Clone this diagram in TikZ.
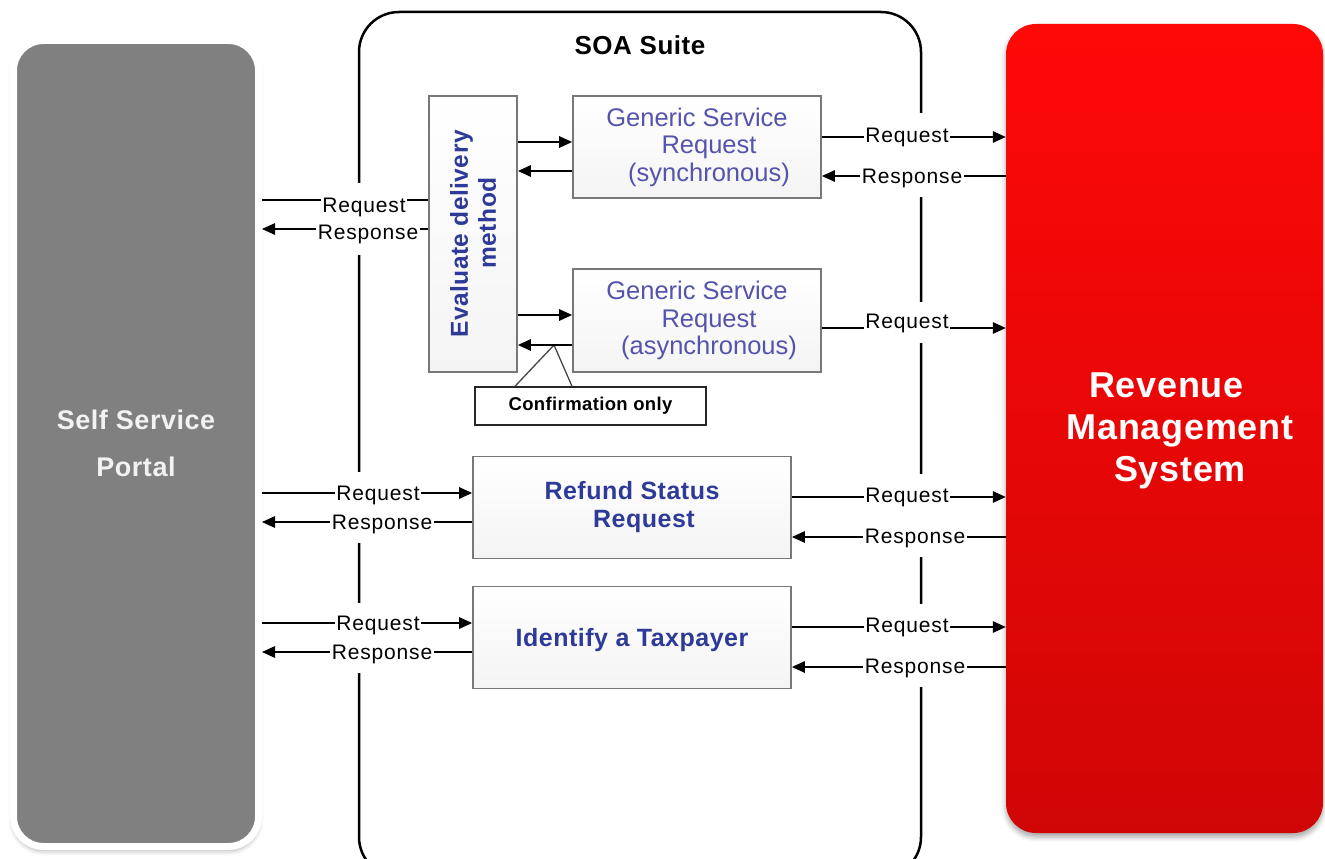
\documentclass[tikz,border=0pt]{standalone}
\usepackage{fontspec}
\setmainfont{Liberation Sans}
\newfontfamily\lblfont[LetterSpace=4]{Liberation Sans}
\newfontfamily\ttlfont[LetterSpace=2]{Liberation Sans}
\usetikzlibrary{arrows.meta,shadows.blur}

\definecolor{portalgray}{RGB}{128,128,128}
\definecolor{titlewhite}{RGB}{242,242,242}
\definecolor{rmstop}{RGB}{255,8,8}
\definecolor{rmsbot}{RGB}{208,6,6}
\definecolor{genblue}{RGB}{84,84,172}
\definecolor{boldblue}{RGB}{46,58,152}
\definecolor{boxgray}{RGB}{120,120,120}
\definecolor{boxshade}{RGB}{244,244,244}
\definecolor{calloutgray}{RGB}{70,70,70}

\begin{document}
\begin{tikzpicture}[x=1pt,y=-1pt,
  portal/.style={rectangle, rounded corners=30pt, fill=portalgray, draw=white,
    line width=7pt, minimum width=245pt, minimum height=806pt, inner sep=0pt,
    blur shadow={shadow xshift=0pt, shadow yshift=-4pt, shadow blur radius=5pt, shadow opacity=35},
    text=titlewhite, align=center,
    font=\ttlfont\bfseries\fontsize{27}{47}\selectfont},
  rmsbox/.style={rectangle, rounded corners=30pt, top color=rmstop, bottom color=rmsbot,
    draw=none, minimum width=317pt, minimum height=809pt, inner sep=0pt,
    blur shadow={shadow xshift=0pt, shadow yshift=-4pt, shadow blur radius=5pt, shadow opacity=35}},
  rmstitle/.style={text=white, align=center,
    font=\ttlfont\bfseries\fontsize{36}{42}\selectfont},
  soaframe/.style={rectangle, rounded corners=40pt, draw=black, line width=2.5pt,
    minimum width=562pt, minimum height=865pt, inner sep=0pt},
  soatitle/.style={anchor=base, font=\ttlfont\bfseries\fontsize{26}{30}\selectfont},
  svcbox/.style={rectangle, draw=boxgray, line width=1.8pt, top color=white,
    bottom color=boxshade, inner sep=0pt, align=center},
  gentext/.style={text=genblue, font=\fontsize{25.5}{27.5}\selectfont},
  boldtext/.style={text=boldblue, font=\ttlfont\bfseries\fontsize{25}{28}\selectfont},
  evaltext/.style={text=boldblue, align=center, inner sep=0pt,
    font=\ttlfont\bfseries\fontsize{24.5}{28}\selectfont},
  notebox/.style={rectangle, draw=black!85, line width=1.5pt, fill=white,
    minimum width=231pt, minimum height=38pt, inner sep=0pt,
    font=\ttlfont\bfseries\fontsize{18.5}{22}\selectfont},
  lbl/.style={anchor=base, fill=white, inner xsep=1.5pt, inner ysep=0pt,
    font=\lblfont\fontsize{21}{25}\selectfont},
  conn/.style={draw=black, line width=1.4pt},
  arr/.style={conn, -{Triangle[length=13pt,width=11.5pt]}},
  calloutline/.style={draw=calloutgray, line width=1.3pt}
]
\useasboundingbox (0,0) rectangle (1325,859);
\clip (0,0) rectangle (1325,859);

% outer systems
\node[portal] (ssp) at (136,443.5) {Self Service\\Portal};
\node[rmsbox] (rms) at (1164.5,428.5) {};
\node[rmstitle] (rmstxt) at (1180,431) {Revenue\hspace*{27pt}\\Management\\System};

% SOA container
\node[soaframe] (soa) at (640,444.5) {};
\node[soatitle] (soatxt) at (640,55) {SOA Suite};

% services inside the SOA suite
\node[svcbox, minimum width=88pt, minimum height=276pt] (eval) at (473,234) {};
\node[evaltext, rotate=90] (evaltxt) at (eval.center) {Evaluate delivery\\\hspace*{22pt}method};
\node[svcbox, gentext, minimum width=248pt, minimum height=102pt] (gsync) at (697,147)
  {Generic Service\\\hspace*{24pt}Request\\\hspace*{24pt}(synchronous)};
\node[svcbox, gentext, minimum width=248pt, minimum height=103pt] (gasync) at (697,320.5)
  {Generic Service\\\hspace*{24pt}Request\\\hspace*{24pt}(asynchronous)};
\node[svcbox, boldtext, minimum width=318pt, minimum height=102pt] (refund) at (632,507.5)
  {Refund Status\\\hspace*{24pt}Request};
\node[svcbox, boldtext, minimum width=318pt, minimum height=102pt, text depth=0pt] (ident) at (632,637.5)
  {Identify a Taxpayer};

% confirmation callout
\node[notebox] (conf) at (590.5,406) {Confirmation only};
\coordinate (ctip) at (554,345);
\draw[calloutline] (515,0 |- conf.north) -- (ctip) -- (572,0 |- conf.north);

% connector labels (their white boxes also break the container outline)
\node[lbl, text height=22pt, text depth=16pt] (l1res) at (368,239) {Response};
\node[lbl, text height=29pt, text depth=7pt]  (l1req) at (364,212) {Request};
\node[lbl, text height=22pt, text depth=14pt] (l2res) at (382,529) {Response};
\node[lbl, text height=28pt, text depth=8pt]  (l2req) at (378,500) {Request};
\node[lbl, text height=22pt, text depth=14pt] (l3res) at (382,659) {Response};
\node[lbl, text height=27pt, text depth=8pt]  (l3req) at (378,630) {Request};

\node[lbl, text height=29pt, text depth=14pt] (r1res) at (912,183) {Response};
\node[lbl, text height=29pt, text depth=13pt] (r1req) at (907,142) {Request};
\node[lbl, text height=26pt, text depth=15pt] (r2req) at (907,328) {Request};
\node[lbl, text height=29pt, text depth=14pt] (r3res) at (915,543) {Response};
\node[lbl, text height=28pt, text depth=13pt] (r3req) at (907,502) {Request};
\node[lbl, text height=29pt, text depth=14pt] (r4res) at (915,673) {Response};
\node[lbl, text height=28pt, text depth=13pt] (r4req) at (907,632) {Request};

% portal <-> evaluate delivery method
\draw[conn] (ssp.east |- 0,200) -- (l1req.west |- 0,200);
\draw[conn] (l1req.east |- 0,200) -- (eval.west |- 0,200);
\draw[conn] (eval.west |- 0,229) -- (l1res.east |- 0,229);
\draw[arr]  (l1res.west |- 0,229) -- (ssp.east |- 0,229);

% evaluate delivery method <-> generic service requests
\draw[arr] (eval.east |- 0,142) -- (gsync.west |- 0,142);
\draw[arr] (gsync.west |- 0,171) -- (eval.east |- 0,171);
\draw[arr] (eval.east |- 0,315) -- (gasync.west |- 0,315);
\draw[arr] (gasync.west |- 0,345) -- (eval.east |- 0,345);

% portal <-> refund status request
\draw[conn] (ssp.east |- 0,493) -- (l2req.west |- 0,493);
\draw[arr]  (l2req.east |- 0,493) -- (refund.west |- 0,493);
\draw[conn] (refund.west |- 0,522) -- (l2res.east |- 0,522);
\draw[arr]  (l2res.west |- 0,522) -- (ssp.east |- 0,522);

% portal <-> identify a taxpayer
\draw[conn] (ssp.east |- 0,623) -- (l3req.west |- 0,623);
\draw[arr]  (l3req.east |- 0,623) -- (ident.west |- 0,623);
\draw[conn] (ident.west |- 0,652) -- (l3res.east |- 0,652);
\draw[arr]  (l3res.west |- 0,652) -- (ssp.east |- 0,652);

% services <-> revenue management system
\draw[conn] (gsync.east |- 0,137) -- (r1req.west |- 0,137);
\draw[arr]  (r1req.east |- 0,137) -- (rms.west |- 0,137);
\draw[conn] (rms.west |- 0,176) -- (r1res.east |- 0,176);
\draw[arr]  (r1res.west |- 0,176) -- (gsync.east |- 0,176);

\draw[conn] (gasync.east |- 0,328) -- (r2req.west |- 0,328);
\draw[arr]  (r2req.east |- 0,328) -- (rms.west |- 0,328);

\draw[conn] (refund.east |- 0,497) -- (r3req.west |- 0,497);
\draw[arr]  (r3req.east |- 0,497) -- (rms.west |- 0,497);
\draw[conn] (rms.west |- 0,537) -- (r3res.east |- 0,537);
\draw[arr]  (r3res.west |- 0,537) -- (refund.east |- 0,537);

\draw[conn] (ident.east |- 0,627) -- (r4req.west |- 0,627);
\draw[arr]  (r4req.east |- 0,627) -- (rms.west |- 0,627);
\draw[conn] (rms.west |- 0,667) -- (r4res.east |- 0,667);
\draw[arr]  (r4res.west |- 0,667) -- (ident.east |- 0,667);
\end{tikzpicture}
\end{document}
